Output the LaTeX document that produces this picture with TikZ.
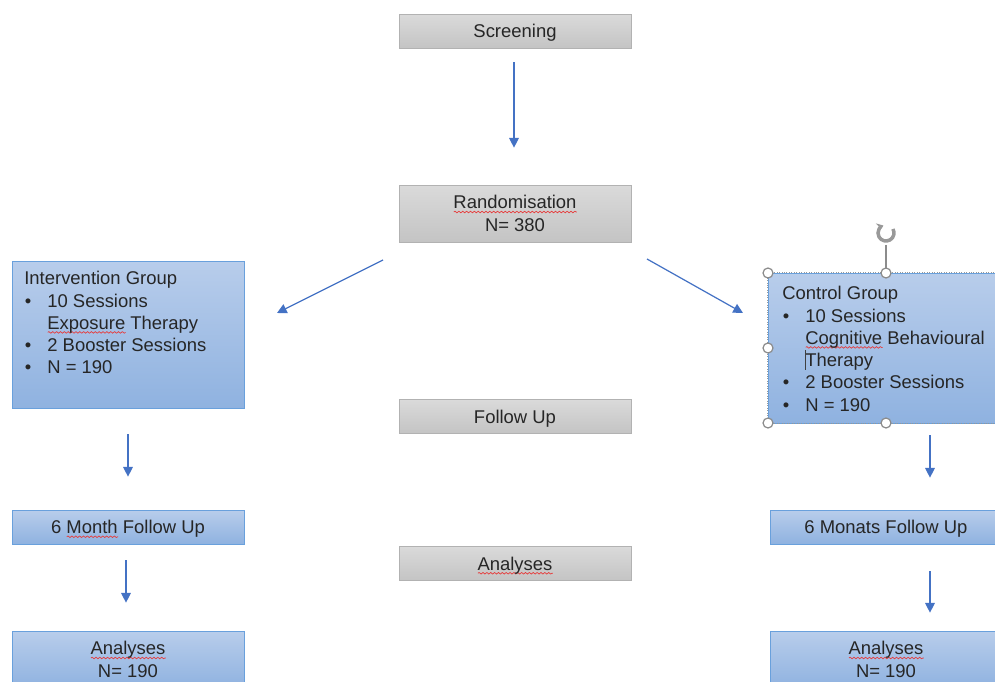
\documentclass[tikz,border=0pt]{standalone}
\usepackage{fontspec}
\setmainfont{Liberation Sans}
\usetikzlibrary{arrows.meta,decorations.pathmorphing}

\definecolor{graytop}{RGB}{218,218,218}
\definecolor{graybot}{RGB}{196,196,196}
\definecolor{grayline}{RGB}{178,178,178}
\definecolor{bluetop}{RGB}{184,205,235}
\definecolor{bluebot}{RGB}{143,178,224}
\definecolor{blueline}{RGB}{105,160,220}
\definecolor{arrowblue}{RGB}{68,114,196}
\definecolor{txt}{RGB}{38,38,38}
\definecolor{spellred}{RGB}{230,60,60}

% red wavy spelling underline
\newsavebox{\spellbox}
\newlength{\spellwd}
\newcommand{\spell}[1]{\sbox{\spellbox}{#1}\setlength{\spellwd}{\wd\spellbox}%
  \rlap{\raisebox{-2.4pt}{\tikz[x=1cm,y=1cm]\path[draw=spellred, line width=0.4pt, decorate,
    decoration={snake, amplitude=0.45pt, segment length=2.2pt}] (0,0) -- (\spellwd,0);}}%
  \usebox{\spellbox}}
\newcommand{\bul}{\makebox[0.46cm][l]{\hspace{0.01cm}\textbullet}}
\newcommand{\bulsp}{\makebox[0.46cm]{}}

\tikzset{
  graybox/.style={draw=grayline, top color=graytop, bottom color=graybot,
    minimum width=4.64cm, minimum height=0.68cm, inner sep=0pt, align=center,
    text=txt, font=\fontsize{10.5}{12.7}\selectfont},
  bluebox/.style={graybox, draw=blueline, top color=bluetop, bottom color=bluebot},
  oneline/.style={text depth=0pt},
  listtext/.style={anchor=north west, inner sep=0pt, align=left, text=txt,
    font=\fontsize{10.5}{12.7}\selectfont},
  flowarrow/.style={draw=arrowblue, line width=0.7pt,
    -{Triangle[width=5.5pt,length=5.5pt]}},
  handle/.style={draw=black!45, fill=white, line width=0.7pt}
}

\begin{document}
\begin{tikzpicture}[x=0.02cm,y=-0.02cm]
\useasboundingbox (0,0) rectangle (995,682);
\clip (0,0) rectangle (995,682);

% middle column
\node[graybox, oneline] (scr) at (515,31) {Screening};
\node[graybox, minimum height=1.14cm] (rand) at (515,213.5) {\spell{Randomisation}\\N= 380};
\node[graybox, oneline] (fup) at (515,416.5) {Follow Up};
\node[graybox, oneline] (ana) at (515,563.5) {\spell{Analyses}};

% intervention arm
\node[bluebox, minimum height=2.94cm] (interv) at (128,334.5) {};
\node[listtext] (intervtxt) at (24,271) {Intervention Group\\
  \bul 10 Sessions\\
  \bulsp\spell{Exposure} Therapy\\
  \bul 2 Booster Sessions\\
  \bul N = 190};
\node[bluebox, oneline] (mon6l) at (128,527) {6 \spell{Month} Follow Up};
\node[bluebox, minimum height=1.14cm] (anl) at (128,659.5) {\spell{Analyses}\\N= 190};

% control arm
\node[bluebox, minimum width=4.72cm, minimum height=3cm] (ctrl) at (886,348) {};
\node[listtext] (ctrltxt) at (782,286) {Control Group\\
  \bul 10 Sessions\\
  \bulsp\spell{Cognitive} Behavioural\\
  \bulsp Therapy\\
  \bul 2 Booster Sessions\\
  \bul N = 190};
\node[bluebox, oneline] (mon6r) at (886,527) {6 Monats Follow Up};
\node[bluebox, minimum height=1.14cm] (anr) at (886,659.5) {\spell{Analyses}\\N= 190};

% arrows
\coordinate (dl1) at (383,260);
\coordinate (dl2) at (277,313);
\coordinate (dr1) at (647,259);
\coordinate (dr2) at (743,313);
\path[flowarrow, shorten <=0.28cm, shorten >=0.74cm] ([xshift=-0.02cm]scr.south) -- ([xshift=-0.02cm]rand.north);
\path[flowarrow] (dl1) -- (dl2);
\path[flowarrow] (dr1) -- (dr2);
\path[flowarrow, shorten <=0.52cm, shorten >=0.66cm] (interv.south) -- (mon6l.north);
\path[flowarrow, shorten <=0.32cm, shorten >=0.56cm] ([xshift=-0.04cm]mon6l.south) -- ([xshift=-0.04cm]anl.north);
\path[flowarrow, shorten <=0.24cm, shorten >=0.64cm] ([xshift=0.88cm]ctrl.south) -- ([xshift=0.88cm]mon6r.north);
\path[flowarrow, shorten <=0.54cm, shorten >=0.36cm] ([xshift=0.88cm]mon6r.south) -- ([xshift=0.88cm]anr.north);

% selection frame of the control box
\draw[black!40, densely dotted] (ctrl.north west) rectangle (ctrl.south east);
\draw[black!75, line width=0.5pt] (805.5,350) -- (805.5,370);
\coordinate (rot) at (886,233);
\draw[black!45, line width=0.7pt] (886,245) -- (ctrl.north);
\draw[black!40, line width=2pt, -{Stealth[length=3.5pt,width=5pt]}] ([shift={(30:0.16cm)}]rot) arc (30:-250:0.16cm);
\foreach \hx/\hy in {768/273, 886/273, 768/348, 768/423, 886/423}
  \draw[handle] (\hx,\hy) circle (0.1cm);
\end{tikzpicture}
\end{document}
